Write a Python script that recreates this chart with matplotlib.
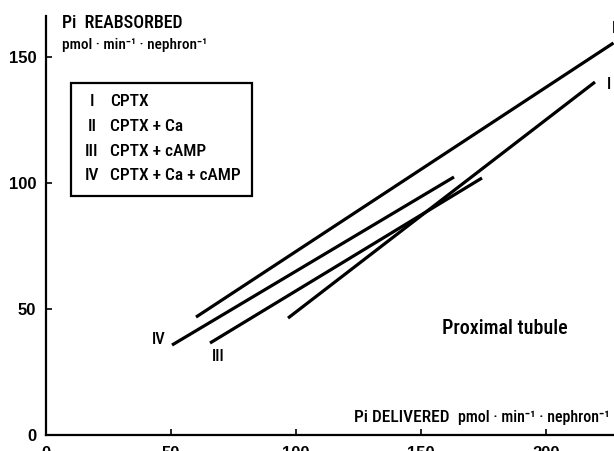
import matplotlib
matplotlib.use("Agg")
import matplotlib.pyplot as plt
from matplotlib.patches import Rectangle

plt.rcParams['font.family'] = ['Roboto Condensed', 'DejaVu Sans']
plt.rcParams['font.weight'] = 500

# regression lines, one per condition (start and end of each segment)
series = ['I', 'II', 'III', 'IV']
x_start = [96.8, 60.0, 65.6, 50.4]
x_end = [219.6, 227.0, 174.4, 163.2]
y_start = [46.4, 46.8, 36.5, 35.7]
y_end = [140.1, 155.6, 102.0, 102.4]

legend_names = ['CPTX', 'CPTX + Ca', 'CPTX + cAMP', 'CPTX + Ca + cAMP']
x_ticks = [0, 50, 100, 150, 200]
y_ticks = [0, 50, 100, 150]

fig = plt.figure(figsize=(6.14, 4.51), dpi=100)
ax = fig.add_axes([46 / 614, 16 / 451, 568 / 614, 419 / 451])

for i in range(len(series)):
    ax.plot([x_start[i], x_end[i]], [y_start[i], y_end[i]],
            color='black', lw=2.3, solid_capstyle='butt')

ax.set_xlim(0, 227.2)
ax.set_ylim(0, 166.3)

ax.spines['top'].set_visible(False)
ax.spines['right'].set_visible(False)
for s in ['left', 'bottom']:
    ax.spines[s].set_linewidth(1.6)

ax.set_xticks(x_ticks)
ax.set_yticks(y_ticks)
ax.tick_params(direction='in', length=4, width=1.2)
ax.tick_params(axis='x', pad=8)
ax.tick_params(axis='y', pad=7)
for lab in ax.get_xticklabels() + ax.get_yticklabels():
    lab.set_family(['Liberation Sans', 'DejaVu Sans'])
    lab.set_fontweight('bold')
    lab.set_fontsize(12)

# axis titles
ax.text(6.4, 163.7, 'Pi  REABSORBED', fontsize=13, va='center', ha='left')
ax.text(6.4, 154.8, 'pmol · min⁻¹ · nephron⁻¹', fontsize=11, va='center', ha='left')
ax.text(123.2, 7.1, 'Pi DELIVERED', fontsize=12.5, va='center', ha='left')
ax.text(164.8, 7.1, 'pmol · min⁻¹ · nephron⁻¹', fontsize=11.5,
        va='center', ha='left')
ax.text(158.4, 42.3, 'Proximal tubule', fontsize=14.5, va='center', ha='left')

# line labels
ax.text(45.2, 38.1, 'IV', fontsize=12, ha='center', va='center')
ax.text(68.8, 31.3, 'III', fontsize=12, ha='center', va='center')
ax.text(224.2, 139.0, 'I', fontsize=12, ha='left', va='center')
ax.text(226.2, 161.5, 'II', fontsize=12, ha='left', va='center')

# key box
ax.add_patch(Rectangle((10, 94.8), 72.4, 44.9, fill=False, lw=1.6,
                       edgecolor='black'))
row_y = [132.5, 122.6, 112.7, 102.8]
for i in range(len(series)):
    ax.text(18.4, row_y[i], series[i], fontsize=12.5, ha='center', va='center')
    ax.text(25.6, row_y[i], legend_names[i], fontsize=12.5, ha='left', va='center')

fig.savefig('out.png', dpi=100)
